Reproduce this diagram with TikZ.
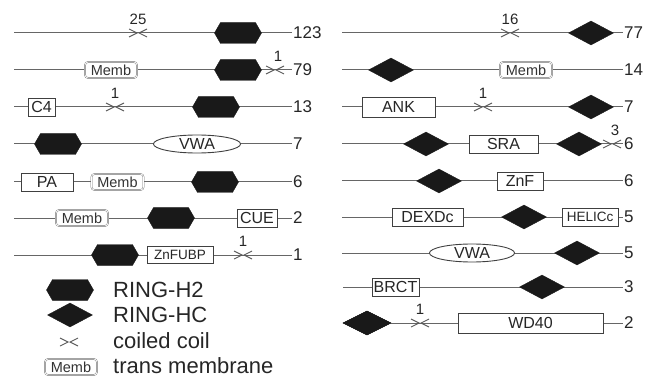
\documentclass[tikz,border=0pt]{standalone}
\usepackage{fontspec}
\setmainfont{Liberation Sans}
\usetikzlibrary{shapes.geometric,shapes.symbols}

\begin{document}
\begin{tikzpicture}[x=1pt,y=-1pt,
  bbone/.style={draw=black!60, line width=1pt},
  num/.style={anchor=west, inner sep=1pt, font=\fontsize{17}{17}\selectfont, text=black!85},
  cclabel/.style={inner sep=0pt, font=\fontsize{15}{15}\selectfont, text=black!85},
  hexa/.style={signal, signal to=east and west, signal pointer angle=120,
    fill=black!90, draw=black!90, minimum width=47, minimum height=21, inner sep=0pt},
  diam/.style={diamond, fill=black!90, draw=black!90, minimum width=45, minimum height=24, inner sep=0pt},
  dbox/.style={rectangle, draw=black!75, fill=white, line width=0.9pt, minimum height=18,
    inner sep=1pt, font=\fontsize{16}{16}\selectfont, text=black!85},
  memb/.style={rectangle, rounded corners=3pt, draw=black!55, double=white, double distance=0.8pt,
    fill=white, minimum width=52, minimum height=16, inner sep=0pt,
    font=\fontsize{14.5}{14.5}\selectfont, text=black!80},
  oval/.style={ellipse, draw=black!75, fill=white, line width=0.9pt, minimum height=18,
    inner sep=0pt, font=\fontsize{16}{16}\selectfont, text=black!85},
  legtext/.style={anchor=west, inner sep=0pt, font=\fontsize{22}{22}\selectfont, text=black!85},
  coil/.pic={\draw[black!65, line width=0.9pt] (-9,-4) -- (-1,0) -- (-9,4) (9,-4) -- (1,0) -- (9,4);}
]
\useasboundingbox (0,0) rectangle (652,379);

% ---------- LEFT COLUMN ----------
% 123
\coordinate (la0) at (14,33);  \coordinate (la1) at (292,33);
\draw[bbone] (la0) -- (la1);
\pic at (138,33) {coil};
\node[cclabel] (lacc) at (138,19) {25};
\node[hexa] (lah) at (238,33) {};
\node[num] (lan) at (la1) {123};

% 79
\coordinate (lb0) at (14,70);  \coordinate (lb1) at (292,70);
\draw[bbone] (lb0) -- (lb1);
\node[memb] (lbm) at (111,70) {Memb};
\node[hexa] (lbh) at (238,70) {};
\pic at (275,70) {coil};
\node[cclabel] (lbcc) at (278,56) {1};
\node[num] (lbn) at (lb1) {79};

% 13
\coordinate (lc0) at (14,107); \coordinate (lc1) at (292,107);
\draw[bbone] (lc0) -- (lc1);
\node[dbox, minimum width=27] (lcb) at (41.5,107) {C4};
\pic at (115,107) {coil};
\node[cclabel] (lccc) at (115,93) {1};
\node[hexa] (lch) at (216,107) {};
\node[num] (lcn) at (lc1) {13};

% 7
\coordinate (ld0) at (14,144); \coordinate (ld1) at (292,144);
\draw[bbone] (ld0) -- (ld1);
\node[hexa] (ldh) at (58,144) {};
\node[oval, minimum width=87] (ldv) at (197,144) {VWA};
\node[num] (ldn) at (ld1) {7};

% 6
\coordinate (le0) at (14,182); \coordinate (le1) at (292,182);
\draw[bbone] (le0) -- (le1);
\node[dbox, minimum width=52] (leb) at (47,182) {PA};
\node[memb] (lem) at (117.5,182) {Memb};
\node[hexa] (leh) at (215,182) {};
\node[num] (len) at (le1) {6};

% 2
\coordinate (lf0) at (14,218); \coordinate (lf1) at (292,218);
\draw[bbone] (lf0) -- (lf1);
\node[memb] (lfm) at (82,218) {Memb};
\node[hexa] (lfh) at (171,218) {};
\node[dbox, minimum width=40] (lfb) at (257,218) {CUE};
\node[num] (lfn) at (lf1) {2};

% 1
\coordinate (lg0) at (14,255); \coordinate (lg1) at (292,255);
\draw[bbone] (lg0) -- (lg1);
\node[hexa] (lgh) at (115,255) {};
\node[dbox, minimum width=66, minimum height=17] (lgb) at (180,255) {\fontsize{13.5}{13.5}\selectfont ZnFUBP};
\pic at (243,255) {coil};
\node[cclabel] (lgcc) at (243,241) {1};
\node[num] (lgn) at (lg1) {1};

% ---------- LEGEND ----------
\node[hexa] (kh) at (70,290) {};
\node[legtext] (kht) at (113,290) {RING-H2};
\node[diam] (kd) at (70,315) {};
\node[legtext] (kdt) at (113,315) {RING-HC};
\pic at (69,342) {coil};
\node[legtext] (kct) at (113,341) {coiled coil};
\node[memb] (km) at (71,367) {Memb};
\node[legtext] (kmt) at (113,366) {trans membrane};

% ---------- RIGHT COLUMN ----------
% 77
\coordinate (ra0) at (342,33); \coordinate (ra1) at (623,33);
\draw[bbone] (ra0) -- (ra1);
\pic at (510,33) {coil};
\node[cclabel] (racc) at (510,19) {16};
\node[diam] (rad) at (591,33) {};
\node[num] (ran) at (ra1) {77};

% 14
\coordinate (rb0) at (342,70); \coordinate (rb1) at (623,70);
\draw[bbone] (rb0) -- (rb1);
\node[diam] (rbd) at (391,70) {};
\node[memb] (rbm) at (526,70) {Memb};
\node[num] (rbn) at (rb1) {14};

% 7
\coordinate (rc0) at (342,107); \coordinate (rc1) at (623,107);
\draw[bbone] (rc0) -- (rc1);
\node[dbox, minimum width=73, minimum height=20] (rcb) at (398.5,107) {ANK};
\pic at (483,107) {coil};
\node[cclabel] (rccc) at (483,93) {1};
\node[diam] (rcd) at (591,107) {};
\node[num] (rcn) at (rc1) {7};

% 6
\coordinate (rd0) at (342,144); \coordinate (rd1) at (623,144);
\draw[bbone] (rd0) -- (rd1);
\node[diam] (rdd1) at (426,144) {};
\node[dbox, minimum width=69] (rdb) at (503.5,144) {SRA};
\node[diam] (rdd2) at (579,144) {};
\pic at (612,144) {coil};
\node[cclabel] (rdcc) at (615,130) {3};
\node[num] (rdn) at (rd1) {6};

% 6
\coordinate (re0) at (342,181); \coordinate (re1) at (623,181);
\draw[bbone] (re0) -- (re1);
\node[diam] (red) at (439,181) {};
\node[dbox, minimum width=46] (reb) at (520,181) {ZnF};
\node[num] (ren) at (re1) {6};

% 5
\coordinate (rf0) at (342,217); \coordinate (rf1) at (623,217);
\draw[bbone] (rf0) -- (rf1);
\node[dbox, minimum width=71] (rfb1) at (427.5,217) {DEXDc};
\node[diam] (rfd) at (524,217) {};
\node[dbox, minimum width=56] (rfb2) at (590,217) {\fontsize{13.5}{13.5}\selectfont HELICc};
\node[num] (rfn) at (rf1) {5};

% 5
\coordinate (rg0) at (342,253); \coordinate (rg1) at (623,253);
\draw[bbone] (rg0) -- (rg1);
\node[oval, minimum width=85] (rgv) at (472,253) {VWA};
\node[diam] (rgd) at (577,253) {};
\node[num] (rgn) at (rg1) {5};

% 3
\coordinate (rh0) at (343,287); \coordinate (rh1) at (623,287);
\draw[bbone] (rh0) -- (rh1);
\node[dbox, minimum width=47] (rhb) at (395.5,287) {BRCT};
\node[diam] (rhd) at (542,287) {};
\node[num] (rhn) at (rh1) {3};

% 2
\coordinate (ri1) at (623,323);
\node[diam, minimum width=48] (rid) at (367,323) {};
\draw[bbone] (rid) -- (ri1);
\node[diam, minimum width=48] at (rid) {};
\pic at (420,323) {coil};
\node[cclabel] (ricc) at (420,309) {1};
\node[dbox, minimum width=145, minimum height=20] (rib) at (530.5,323) {WD40};
\node[num] (rin) at (ri1) {2};

\end{tikzpicture}
\end{document}
